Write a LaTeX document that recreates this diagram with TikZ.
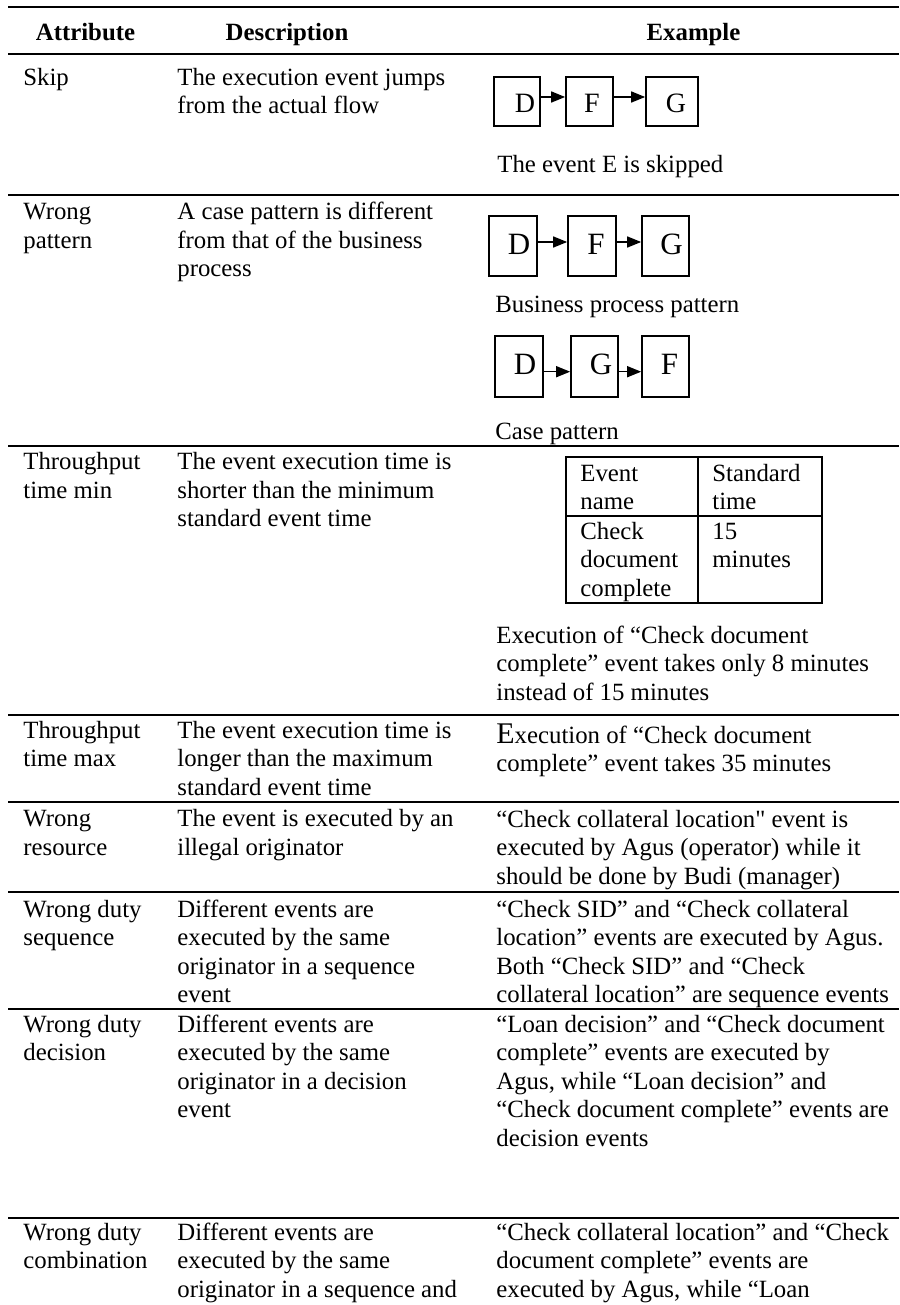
\documentclass[tikz,border=0pt]{standalone}
\usepackage{fontspec}
\setmainfont{Liberation Serif}
\usetikzlibrary{arrows.meta}
\newcommand\txtfont{\fontsize{12.4pt}{14.25pt}\selectfont}
\newcommand\straightq{\XeTeXglyph\XeTeXcharglyph"22\relax}
\tikzset{
  cell/.style={anchor=north west, inner sep=0pt, align=left, font=\txtfont},
  head/.style={anchor=base, inner sep=0pt, font=\txtfont\bfseries},
  rulel/.style={line width=1.25pt},
  evbox/.style={draw, line width=0.85pt, inner sep=0pt},
  lettA/.style={anchor=base, inner sep=0pt, font=\fontsize{14pt}{16pt}\selectfont},
  lettB/.style={anchor=base, inner sep=0pt, font=\fontsize{15.5pt}{17pt}\selectfont},
  flow/.style={line width=0.75pt, -{Triangle[length=7pt,width=5.5pt]}},
  innerl/.style={line width=1pt},
}
\begin{document}
\begin{tikzpicture}[x=0.5pt,y=-0.5pt]
\useasboundingbox (0,0) rectangle (899,1305);
\clip (0,0) rectangle (899,1305);

% horizontal rules
\foreach \yy in {7,54,195,446,715,802,892,1009,1218}
  \draw[rulel] (8,\yy) -- (899,\yy);

% header
\node[head] (hA) at (85.5,41) {Attribute};
\node[head] (hD) at (287,41) {Description};
\node[head] (hE) at (693.5,41) {Example};

% Row: Skip
\node[cell] (a1) at (23,65) {\strut Skip};
\node[cell] (d1) at (177,65) {\strut The execution event jumps\\from the actual flow};
\node[evbox, minimum width=23pt, minimum height=24.5pt] (sD) at (517,101.5) {};
\node[evbox, minimum width=23.5pt, minimum height=24.5pt] (sF) at (589.5,101.5) {};
\node[evbox, minimum width=26pt, minimum height=24.5pt] (sG) at (672,101.5) {};
\node[lettA] (sDl) at (525,113) {D};
\node[lettA] (sFl) at (592,113) {F};
\node[lettA] (sGl) at (676,113) {G};
\draw[flow] ([yshift=2.25pt]sD.east) -- ([yshift=2.25pt]sF.west);
\draw[flow] ([yshift=2.25pt]sF.east) -- ([yshift=2.25pt]sG.west);
\node[cell] (e1) at (497,152) {\strut The event E is skipped};

% Row: Wrong pattern
\node[cell] (a2) at (23,199.5) {\strut Wrong\\pattern};
\node[cell] (d2) at (177,199.5) {\strut A case pattern is different\\from that of the business\\process};
\node[evbox, minimum width=24pt, minimum height=30pt] (bD) at (513,246) {};
\node[evbox, minimum width=24pt, minimum height=30pt] (bF) at (592,246) {};
\node[evbox, minimum width=23.5pt, minimum height=30pt] (bG) at (665.5,246) {};
\node[lettB] (bDl) at (519,255) {D};
\node[lettB] (bFl) at (596,255) {F};
\node[lettB] (bGl) at (671.5,255) {G};
\draw[flow] ([yshift=2pt]bD.east) -- ([yshift=2pt]bF.west);
\draw[flow] ([yshift=2pt]bF.east) -- ([yshift=2pt]bG.west);
\node[cell] (e2a) at (495,291.7) {\strut Business process pattern};
\node[evbox, minimum width=24pt, minimum height=30.5pt] (cD) at (519,366.5) {};
\node[evbox, minimum width=23.5pt, minimum height=30.5pt] (cG) at (594.5,366.5) {};
\node[evbox, minimum width=23.5pt, minimum height=30.5pt] (cF) at (665.5,366.5) {};
\node[lettB] (cDl) at (525,374) {D};
\node[lettB] (cGl) at (601,374) {G};
\node[lettB] (cFl) at (669.5,374) {F};
\draw[flow] ([yshift=-2.6pt]cD.east) -- ([yshift=-2.6pt]cG.west);
\draw[flow] ([yshift=-2.6pt]cG.east) -- ([yshift=-2.6pt]cF.west);
\node[cell] (e2b) at (495,419.3) {\strut Case pattern};

% Row: Throughput time min
\node[cell] (a3) at (23,449.5) {\strut Throughput\\time min};
\node[cell] (d3) at (177,449.5) {\strut The event execution time is\\shorter than the minimum\\standard event time};
\draw[innerl] (566,457) rectangle (822,603);
\draw[innerl] (698,457) -- (698,603);
\draw[innerl] (566,516) -- (822,516);
\node[cell] (t11) at (580,461) {\strut Event\\name};
\node[cell] (t12) at (712,461) {\strut Standard\\time};
\node[cell] (t21) at (580,519) {\strut Check\\document\\complete};
\node[cell] (t22) at (712,519) {\strut 15\\minutes};
\node[cell] (e3) at (496,623) {\strut Execution of “Check document\\complete” event takes only 8 minutes\\instead of 15 minutes};

% Row: Throughput time max
\node[cell] (a4) at (23,718) {\strut Throughput\\time max};
\node[cell] (d4) at (177,718) {\strut The event execution time is\\longer than the maximum\\standard event time};
\node[cell] (e4) at (496,723) {\strut {\fontsize{15pt}{14.25pt}\selectfont E}xecution of “Check document\\complete” event takes 35 minutes};

% Row: Wrong resource
\node[cell] (a5) at (23,806.5) {\strut Wrong\\resource};
\node[cell] (d5) at (177,806.5) {\strut The event is executed by an\\illegal originator};
\node[cell] (e5) at (496,807) {\strut “Check collateral location\straightq{} event is\\executed by Agus (operator) while it\\should be done by Budi (manager)};

% Row: Wrong duty sequence
\node[cell] (a6) at (23,897) {\strut Wrong duty\\sequence};
\node[cell] (d6) at (177,897) {\strut Different events are\\executed by the same\\originator in a sequence\\event};
\node[cell] (e6) at (496,897) {\strut “Check SID” and “Check collateral\\location” events are executed by Agus.\\Both “Check SID” and “Check\\collateral location” are sequence events};

% Row: Wrong duty decision
\node[cell] (a7) at (23,1012) {\strut Wrong duty\\decision};
\node[cell] (d7) at (177,1012) {\strut Different events are\\executed by the same\\originator in a decision\\event};
\node[cell] (e7) at (496,1012) {\strut “Loan decision” and “Check document\\complete” events are executed by\\Agus, while “Loan decision” and\\“Check document complete” events are\\decision events};

% Row: Wrong duty combination
\node[cell] (a8) at (23,1220) {\strut Wrong duty\\combination};
\node[cell] (d8) at (177,1220) {\strut Different events are\\executed by the same\\originator in a sequence and};
\node[cell] (e8) at (496,1220) {\strut “Check collateral location” and “Check\\document complete” events are\\executed by Agus, while “Loan};
\end{tikzpicture}
\end{document}
